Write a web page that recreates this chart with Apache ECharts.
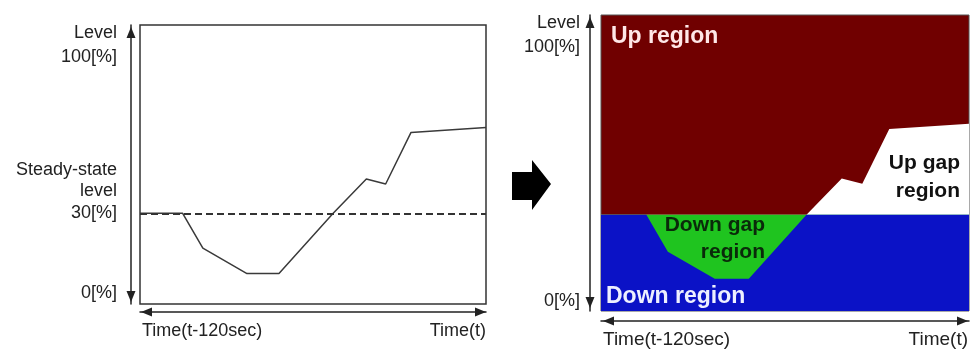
<!DOCTYPE html>
<html>
<head>
<meta charset="utf-8">
<script src="https://cdn.jsdelivr.net/npm/echarts@6/dist/echarts.min.js"></script>
<style>html,body{margin:0;padding:0;background:#fff}#c{width:976px;height:352px}</style>
</head>
<body>
<div id="c"></div>
<script>
// ---- data ----
const timeSec = [0, 14.8, 21.8, 37.1, 48.2, 67, 78.5, 85.2, 94, 120];
const levelPct = [32.5, 32.5, 20, 10.9, 10.9, 32.5, 44.8, 43, 61.5, 63.3];
const steadyLevel = 32.5;
const leftLabels = ['Level', '100[%]', 'Steady-state', 'level', '30[%]', '0[%]'];
const rightLabels = ['Level', '100[%]', '0[%]'];
const timeLabels = ['Time(t-120sec)', 'Time(t)'];
const regionNames = ['Up region', 'Down gap\nregion', 'Up gap\nregion', 'Down region'];

const FONT = '"Liberation Sans", Arial, sans-serif';
const pts = (ys) => timeSec.map((x, i) => [x, ys[i]]);
const lineData = pts(levelPct);
const maxData = pts(levelPct.map(v => Math.max(v, steadyLevel)));
const minData = pts(levelPct.map(v => Math.min(v, steadyLevel)));
const steadyData = pts(levelPct.map(() => steadyLevel));

const chart = echarts.init(document.getElementById('c'), null, {renderer: 'canvas'});

const axisArrow = (startOff, endOff) => ({
  show: true,
  onZero: false,
  lineStyle: {color: '#222', width: 1.5},
  symbol: ['triangle', 'triangle'],
  symbolSize: [9, 11],
  symbolOffset: [startOff, endOff]
});
const hidden = {axisTick: {show: false}, axisLabel: {show: false}, splitLine: {show: false}};

function txt(x, y, text, opt) {
  return {
    type: 'text', z: 100,
    style: Object.assign({
      x: x, y: y, text: text, fill: '#222', font: '18px ' + FONT,
      align: 'right', verticalAlign: 'middle'
    }, opt || {})
  };
}

const option = {
  animation: false,
  backgroundColor: '#fff',
  grid: [
    {left: 140, top: 25, width: 346, height: 279, show: true, borderColor: '#333', borderWidth: 1.5, backgroundColor: 'transparent'},
    {left: 601, top: 15, width: 368, height: 296, show: true, borderColor: '#555', borderWidth: 1, backgroundColor: '#700000'}
  ],
  xAxis: [
    Object.assign({type: 'value', gridIndex: 0, min: 0, max: 120, offset: 8, axisLine: axisArrow(6.5, -5.5)}, hidden),
    Object.assign({type: 'value', gridIndex: 1, min: 0, max: 120, offset: 10, axisLine: axisArrow(7.5, -6.5)}, hidden)
  ],
  yAxis: [
    Object.assign({type: 'value', gridIndex: 0, min: 0, max: 100, offset: 9, axisLine: axisArrow(7.5, -7.5)}, hidden),
    Object.assign({type: 'value', gridIndex: 1, min: 0, max: 100, offset: 11, axisLine: axisArrow(8.5, -7.5)}, hidden)
  ],
  series: [
    {
      type: 'line', xAxisIndex: 0, yAxisIndex: 0, data: lineData, symbol: 'none',
      lineStyle: {color: '#3a3a3a', width: 1.5},
      markLine: {
        silent: true, symbol: 'none', label: {show: false},
        lineStyle: {color: '#333', width: 2, type: [7, 4]},
        data: [{yAxis: steadyLevel}]
      }
    },
    {
      type: 'line', xAxisIndex: 1, yAxisIndex: 1, data: maxData, symbol: 'none',
      lineStyle: {width: 0}, areaStyle: {color: '#ffffff', opacity: 1, origin: 'start'}
    },
    {
      type: 'line', xAxisIndex: 1, yAxisIndex: 1, data: steadyData, symbol: 'none',
      lineStyle: {width: 0}, areaStyle: {color: '#1fc41f', opacity: 1, origin: 'start'}
    },
    {
      type: 'line', xAxisIndex: 1, yAxisIndex: 1, data: minData, symbol: 'none',
      lineStyle: {width: 0}, areaStyle: {color: '#0b12c6', opacity: 1, origin: 'start'}
    }
  ],
  graphic: [
    txt(117, 33, leftLabels[0]),
    txt(117, 57, leftLabels[1]),
    txt(117, 170, leftLabels[2]),
    txt(117, 191, leftLabels[3]),
    txt(117, 213, leftLabels[4]),
    txt(117, 293, leftLabels[5]),
    txt(142, 331, timeLabels[0], {align: 'left'}),
    txt(486, 331, timeLabels[1]),
    txt(580, 23, rightLabels[0]),
    txt(580, 47, rightLabels[1]),
    txt(580, 301, rightLabels[2]),
    txt(603, 340, timeLabels[0], {align: 'left', font: '19px ' + FONT}),
    txt(968, 340, timeLabels[1], {font: '19px ' + FONT}),
    txt(611, 37, regionNames[0], {align: 'left', fill: '#ffe8e8', font: 'bold 23px ' + FONT}),
    txt(765, 238.5, regionNames[1], {fill: '#0a2a0a', font: 'bold 21px ' + FONT, lineHeight: 27}),
    txt(960, 177, regionNames[2], {fill: '#111', font: 'bold 21px ' + FONT, lineHeight: 28}),
    txt(606, 297, regionNames[3], {align: 'left', fill: '#eef0ff', font: 'bold 23px ' + FONT}),
    {
      type: 'polygon', z: 100,
      shape: {points: [[512, 172], [532, 172], [532, 160], [551, 184], [532, 210], [532, 200], [512, 200]]},
      style: {fill: '#000'}
    }
  ]
};
chart.setOption(option);
</script>
</body>
</html>
